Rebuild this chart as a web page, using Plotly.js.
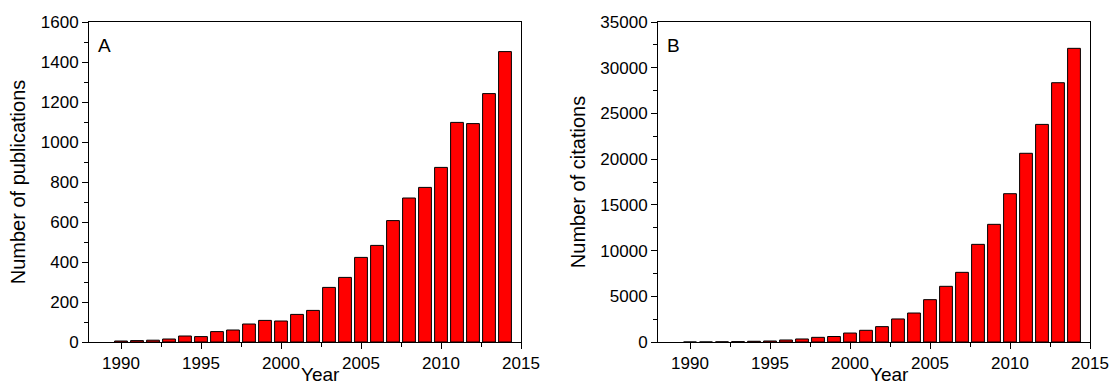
<!DOCTYPE html>
<html>
<head>
<meta charset="utf-8">
<script src="https://cdn.plot.ly/plotly-3.0.1.min.js"></script>
<style>
html,body{margin:0;padding:0;background:#fff;}
#chart{width:1109px;height:387px;}
</style>
</head>
<body>
<div id="chart"></div>
<script>
var years = [1990,1991,1992,1993,1994,1995,1996,1997,1998,1999,2000,2001,2002,2003,2004,2005,2006,2007,2008,2009,2010,2011,2012,2013,2014];
var publications = [5,7,9,15,30,27,52,60,90,108,105,138,158,273,323,423,483,607,720,773,873,1098,1092,1242,1452];
var citations = [0,3,20,40,80,110,220,330,510,600,980,1280,1680,2520,3170,4630,6090,7620,10680,12870,16220,20640,23800,28360,32120];
var xTitle = 'Year';
var yTitleA = 'Number of publications';
var yTitleB = 'Number of citations';
var panelLabels = ['A','B'];

var FONT = 'Liberation Sans, Arial, sans-serif';
var barStyle = {color:'#ff0000', line:{color:'#000000', width:1}};

var traces = [
  {type:'bar', x:years, y:publications, width:0.8, marker:barStyle, xaxis:'x', yaxis:'y', hoverinfo:'x+y'},
  {type:'bar', x:years, y:citations, width:0.8, marker:barStyle, xaxis:'x2', yaxis:'y2', hoverinfo:'x+y'}
];

var xRange = [1988, 2015];
var dx = [89/1109, 521/1109];
var dx2 = [658/1109, 1090/1109];
var dy = [45/387, 365/387];

function xMain(domain, anchor){
  return {domain:domain, anchor:anchor, range:xRange, dtick:5, tick0:1990,
    ticks:'outside', ticklen:6, tickwidth:1, tickcolor:'#000',
    minor:{dtick:2.5, ticks:'outside', ticklen:4, tickwidth:1, tickcolor:'#000'},
    showline:true, mirror:true, linecolor:'#000', linewidth:1,
    showgrid:false, zeroline:false, fixedrange:true,
    tickfont:{family:FONT, size:17, color:'#000'}};
}
function xMirror(over, anchor){
  return {overlaying:over, anchor:anchor, side:'top', range:xRange, dtick:5, tick0:1990,
    ticks:'inside', ticklen:6, tickwidth:1, tickcolor:'#000',
    minor:{dtick:2.5, ticks:'inside', ticklen:4, tickwidth:1, tickcolor:'#000'},
    showticklabels:false, showline:false, showgrid:false, zeroline:false, fixedrange:true};
}
function yMain(domain, anchor, range, dtick, title){
  return {domain:domain, anchor:anchor, range:range, dtick:dtick, tickformat:'d',
    ticks:'outside', ticklen:6, tickwidth:1, tickcolor:'#000',
    minor:{dtick:dtick/2, ticks:'outside', ticklen:4, tickwidth:1, tickcolor:'#000'},
    showline:true, mirror:true, linecolor:'#000', linewidth:1,
    showgrid:false, zeroline:false, fixedrange:true,
    tickfont:{family:FONT, size:17, color:'#000'},
    title:{text:title, font:{family:FONT, size:20, color:'#000'}, standoff:9}};
}
function yMirror(over, anchor, range, dtick){
  return {overlaying:over, anchor:anchor, side:'right', range:range, dtick:dtick,
    ticks:'inside', ticklen:6, tickwidth:1, tickcolor:'#000',
    minor:{dtick:dtick/2, ticks:'inside', ticklen:4, tickwidth:1, tickcolor:'#000'},
    showticklabels:false, showline:false, showgrid:false, zeroline:false, fixedrange:true};
}

function panelLabel(txt, xr, yr){
  return {text:txt, xref:xr, yref:yr, x:0, y:1, xanchor:'left', yanchor:'top',
    xshift:7, yshift:-11, showarrow:false, font:{family:FONT, size:19, color:'#000'}};
}
function xTitleAnn(xr, yr){
  return {text:xTitle, xref:xr, yref:yr, x:0.5, y:0, xanchor:'center', yanchor:'top',
    xshift:15, yshift:-21, borderpad:0, showarrow:false, font:{family:FONT, size:19, color:'#000'}};
}

var layout = {
  width:1109, height:387,
  margin:{l:0, r:0, t:0, b:0},
  paper_bgcolor:'#fff', plot_bgcolor:'#fff',
  showlegend:false, bargap:0.2,
  font:{family:FONT, color:'#000'},
  xaxis: xMain(dx, 'y'),
  yaxis: yMain(dy, 'x', [0,1600], 200, yTitleA),
  xaxis2: xMain(dx2, 'y2'),
  yaxis2: yMain(dy, 'x2', [0,35000], 5000, yTitleB),
  xaxis3: xMirror('x', 'y'),
  yaxis3: yMirror('y', 'x', [0,1600], 200),
  xaxis4: xMirror('x2', 'y2'),
  yaxis4: yMirror('y2', 'x2', [0,35000], 5000),
  annotations:[
    panelLabel(panelLabels[0], 'x domain', 'y domain'),
    panelLabel(panelLabels[1], 'x2 domain', 'y2 domain'),
    xTitleAnn('x domain', 'y domain'),
    xTitleAnn('x2 domain', 'y2 domain')
  ]
};

Plotly.newPlot('chart', traces, layout, {displayModeBar:false, staticPlot:true});
</script>
</body>
</html>
